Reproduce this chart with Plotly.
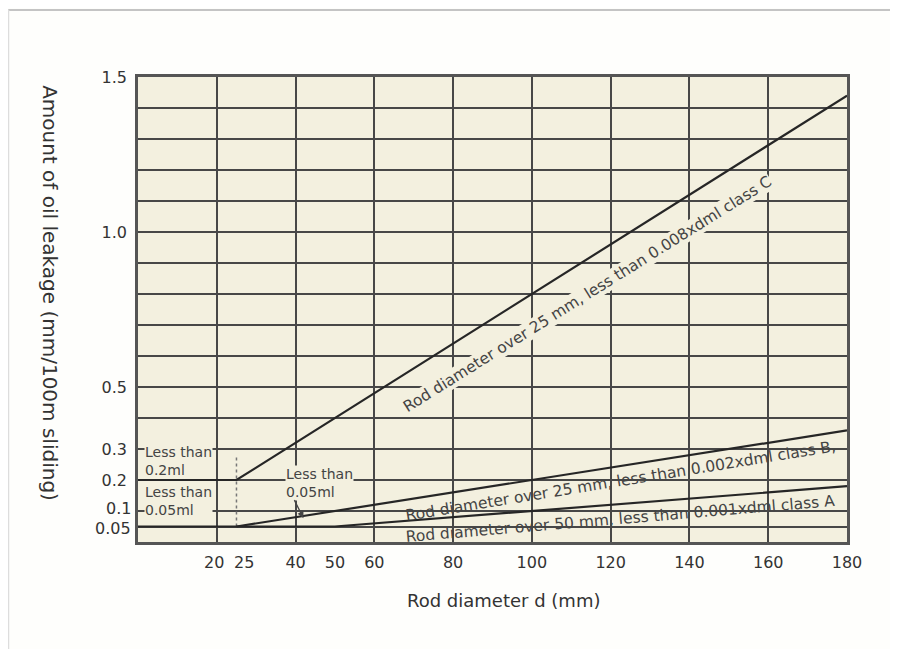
import plotly.graph_objects as go

# ---- data ----
x_tick_vals = [20, 25, 40, 50, 60, 80, 100, 120, 140, 160, 180]
x_tick_text = ["20", "25", "40", "50", "60", "80", "100", "120", "140", "160", "180"]
y_tick_vals = [0.05, 0.1, 0.2, 0.3, 0.5, 1.0, 1.5]
y_tick_text = ["0.05", "0.1", "0.2", "0.3", "0.5", "1.0", "1.5"]

class_c_x = [0, 25, 180]
class_c_y = [0.2, 0.2, 1.44]
class_b_x = [25, 180]
class_b_y = [0.05, 0.36]
class_a_x = [0, 50, 180]
class_a_y = [0.05, 0.05, 0.18]
marker25_x = [25, 25]
marker25_y = [0.05, 0.28]

label_c = "Rod diameter over 25 mm, less than 0.008xdml class C"
label_b = "Rod diameter over 25 mm, less than 0.002xdml class B,"
label_a = "Rod diameter over 50 mm, less than 0.001xdml class A"

INK = "#262626"
GRID = "#474747"
PLOT_BG = "#F3F0DF"
FONT = "DejaVu Sans, Verdana, sans-serif"
TICKFONT = dict(family=FONT, size=16, color="#333")

# crowded tick labels are drawn as nudged text, like the printed chart
crowded_x = {20: -3, 25: 8}
crowded_y = {0.05: -2, 0.1: 3}
x_text_shown = ["" if v in crowded_x else t for v, t in zip(x_tick_vals, x_tick_text)]
y_text_shown = ["" if v in crowded_y else t for v, t in zip(y_tick_vals, y_tick_text)]

fig = go.Figure()
fig.add_trace(go.Scatter(x=marker25_x, y=marker25_y, mode="lines",
                         line=dict(color="#777", width=1.5, dash="dot"), hoverinfo="skip"))
fig.add_trace(go.Scatter(x=class_c_x, y=class_c_y, mode="lines",
                         line=dict(color=INK, width=2.2), name="C"))
fig.add_trace(go.Scatter(x=class_b_x, y=class_b_y, mode="lines",
                         line=dict(color=INK, width=2.2), name="B"))
fig.add_trace(go.Scatter(x=class_a_x, y=class_a_y, mode="lines",
                         line=dict(color=INK, width=2.2), name="A"))

small = dict(family=FONT, size=14, color="#444")
rot = dict(family=FONT, size=15.5, color="#444")
ann = [
    dict(x=1.5, y=0.262, text="Less than<br>0.2ml", showarrow=False, xanchor="left",
         align="left", font=small, bgcolor=PLOT_BG, borderpad=0),
    dict(x=1.5, y=0.132, text="Less than<br>0.05ml", showarrow=False, xanchor="left",
         align="left", font=small, bgcolor=PLOT_BG, borderpad=0),
    dict(x=37.3, y=0.19, text="Less than<br>0.05ml", showarrow=False, xanchor="left",
         align="left", font=small, bgcolor=PLOT_BG, borderpad=0),
    dict(x=42, y=0.077, ax=39.5, ay=0.14, axref="x", ayref="y", text="", showarrow=True,
         arrowhead=2, arrowsize=1, arrowwidth=1.3, arrowcolor="#444"),
    dict(x=114.2, y=0.80, text=label_c, showarrow=False, textangle=-32,
         font=rot, bgcolor=PLOT_BG, borderpad=0),
    dict(x=122.6, y=0.197, text=label_b, showarrow=False, textangle=-9.2, font=rot),
    dict(x=122.4, y=0.073, text=label_a, showarrow=False, textangle=-4.8, font=rot),
    dict(x=-0.124, y=0.535, xref="paper", yref="paper", xanchor="center", yanchor="middle",
         text="Amount of oil leakage (mm/100m sliding)",
         showarrow=False, textangle=90, font=dict(family=FONT, size=20, color="#333")),
    dict(x=0.515, y=-0.125, xref="paper", yref="paper", xanchor="center", yanchor="middle",
         text="Rod diameter d (mm)",
         showarrow=False, font=dict(family=FONT, size=18, color="#333")),
]
for v, t in zip(y_tick_vals, y_tick_text):
    if v in crowded_y:
        ann.append(dict(x=0, y=v, xref="paper", yref="y", xanchor="right", yanchor="middle",
                        xshift=-5, yshift=crowded_y[v], text=t, showarrow=False, font=TICKFONT))
for v, t in zip(x_tick_vals, x_tick_text):
    if v in crowded_x:
        ann.append(dict(x=v, y=0, xref="x", yref="paper", xanchor="center", yanchor="top",
                        xshift=crowded_x[v], yshift=-9, text=t, showarrow=False, font=TICKFONT))

shapes = [
    dict(type="line", xref="paper", yref="paper", x0=-0.183, x1=1.1, y0=1.144, y1=1.144,
         line=dict(color="#c4c4c4", width=2)),
    dict(type="line", xref="paper", yref="paper", x0=-0.183, x1=-0.183, y0=1.144, y1=-0.25,
         line=dict(color="#dddddd", width=2)),
]

fig.update_layout(
    width=890, height=641,
    margin=dict(l=130, r=51, t=69, b=107),
    paper_bgcolor="#FEFEFC", plot_bgcolor=PLOT_BG,
    showlegend=False,
    annotations=ann, shapes=shapes,
    font=dict(family=FONT, color="#333"),
)
fig.update_xaxes(range=[0, 180], tickmode="array", tickvals=x_tick_vals, ticktext=x_text_shown,
                 tickangle=0,
                 showgrid=False, zeroline=False, ticks="", ticklabelstandoff=4,
                 tickfont=TICKFONT,
                 showline=True, linecolor="#555", linewidth=2.5, mirror=True,
                 minor=dict(tick0=0, dtick=20, showgrid=True, gridcolor=GRID, gridwidth=1.7))
fig.update_yaxes(range=[0, 1.5], tickmode="array", tickvals=y_tick_vals, ticktext=y_text_shown,
                 showgrid=True, gridcolor=GRID, gridwidth=1.7, zeroline=False, ticks="",
                 ticklabelstandoff=5, tickfont=TICKFONT,
                 showline=True, linecolor="#555", linewidth=2.5, mirror=True,
                 minor=dict(tick0=0, dtick=0.1, showgrid=True, gridcolor=GRID, gridwidth=1.7))

fig.write_html("out.html")
